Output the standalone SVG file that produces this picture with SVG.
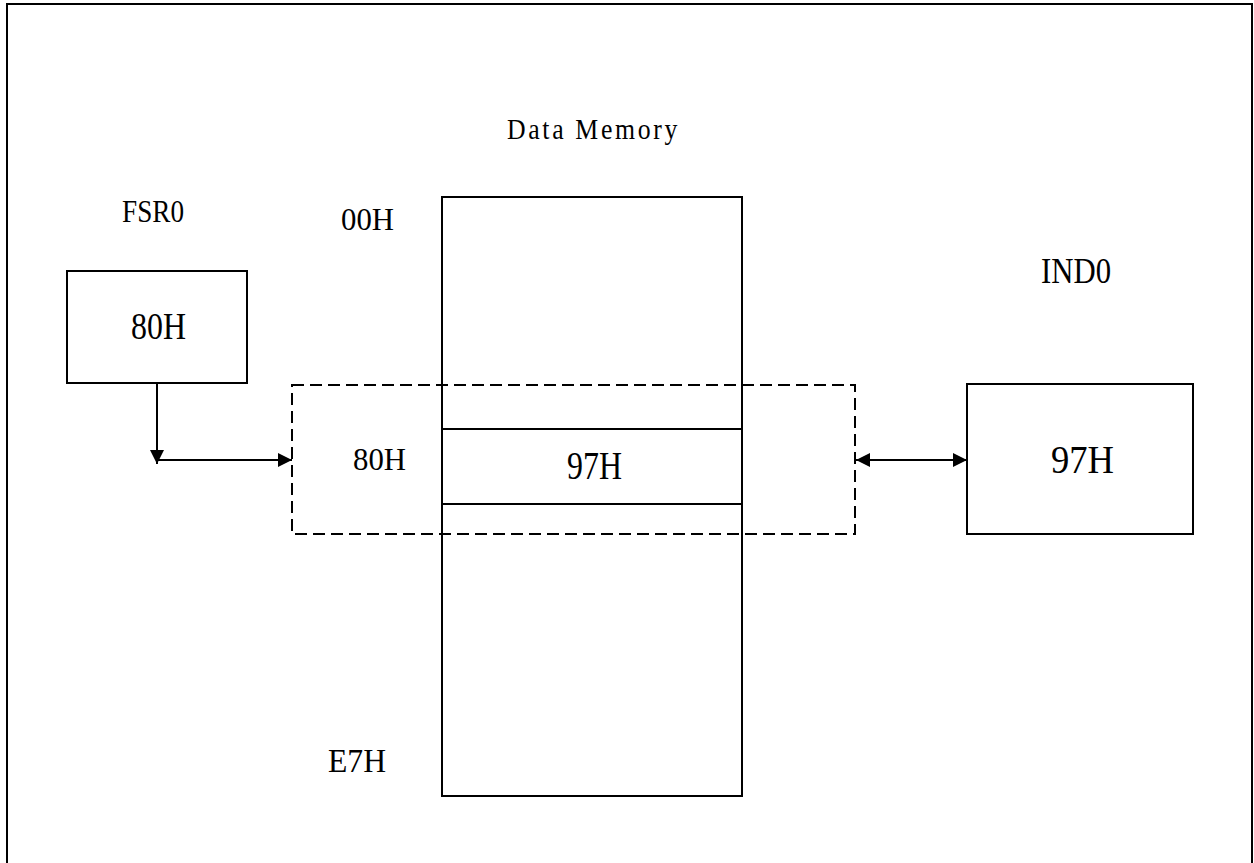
<svg xmlns="http://www.w3.org/2000/svg" width="1254" height="863" viewBox="0 0 1254 863">
<style>
.box{fill:#fff;stroke:#000;stroke-width:2}
.ln{fill:none;stroke:#000;stroke-width:2}
.dash{fill:none;stroke:#000;stroke-width:2;stroke-dasharray:12 6}
.mono{font-family:"Liberation Serif","DejaVu Serif",serif;fill:#000}
.serif{font-family:"Liberation Serif","DejaVu Serif",serif;fill:#000}
</style>
<defs>
<marker id="ah" viewBox="0 0 14 14" refX="14" refY="7" markerWidth="14" markerHeight="14" markerUnits="userSpaceOnUse" orient="auto-start-reverse">
<path d="M0,0 L14,7 L0,14 Z" fill="#000"/>
</marker>
</defs>
<rect x="0" y="0" width="1254" height="863" fill="#fff"/>
<rect x="7" y="4" width="1245" height="880" class="ln"/>
<text class="mono" x="507" y="139" font-size="29" textLength="173" lengthAdjust="spacingAndGlyphs" letter-spacing="3">Data Memory</text>
<g id="fsr0">
<text class="mono" x="122" y="222" font-size="32" textLength="62" lengthAdjust="spacingAndGlyphs">FSR0</text>
<rect x="67" y="271" width="180" height="112" class="box"/>
<text class="serif" x="131" y="339" font-size="38" textLength="55" lengthAdjust="spacingAndGlyphs">80H</text>
</g>
<g id="memory">
<rect x="442" y="197" width="300" height="599" class="box"/>
<line x1="442" y1="429" x2="742" y2="429" class="ln"/>
<line x1="442" y1="504" x2="742" y2="504" class="ln"/>
<text class="serif" x="567" y="479" font-size="39" textLength="55" lengthAdjust="spacingAndGlyphs">97H</text>
<text class="serif" x="341" y="230" font-size="32" textLength="53" lengthAdjust="spacingAndGlyphs">00H</text>
<text class="serif" x="353" y="470" font-size="32" textLength="53" lengthAdjust="spacingAndGlyphs">80H</text>
<text class="serif" x="328" y="772" font-size="33" textLength="58" lengthAdjust="spacingAndGlyphs">E7H</text>
</g>
<g id="selection">
<rect x="292" y="385" width="563" height="149" class="dash"/>
</g>
<g id="ind0">
<text class="mono" x="1041" y="283" font-size="36" textLength="70" lengthAdjust="spacingAndGlyphs">IND0</text>
<rect x="967" y="384" width="226" height="150" class="box"/>
<text class="serif" x="1051" y="473" font-size="39" textLength="63" lengthAdjust="spacingAndGlyphs">97H</text>
</g>
<g id="connectors">
<path d="M157,383 L157,464" class="ln" marker-end="url(#ah)"/>
<path d="M157,460 L292,460" class="ln" marker-end="url(#ah)"/>
<path d="M856,460 L967,460" class="ln" marker-start="url(#ah)" marker-end="url(#ah)"/>
</g>
</svg>
